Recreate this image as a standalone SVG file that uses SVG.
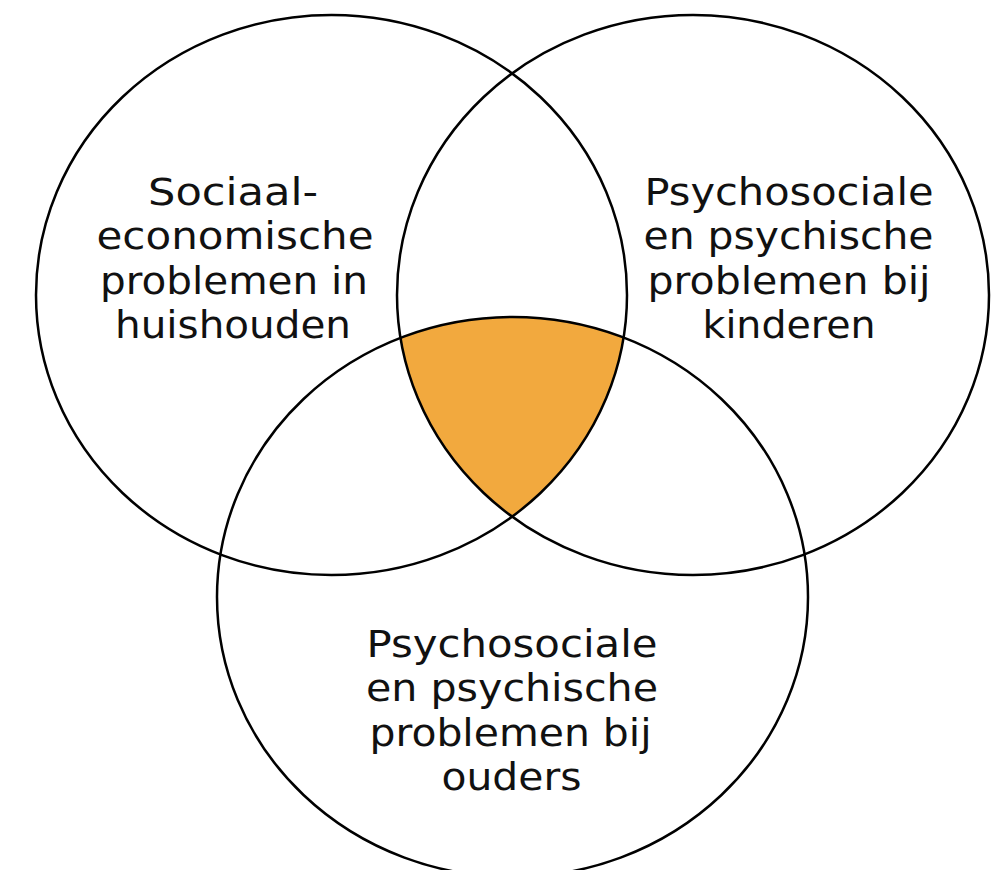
<svg xmlns="http://www.w3.org/2000/svg" width="999" height="870" viewBox="0 0 999 870">
  <style>
    .ring { fill: none; stroke: #000; stroke-width: 2.5; }
    .lbl { font-family: "DejaVu Sans", "Liberation Sans", sans-serif; font-size: 37px; fill: #111; }
  </style>
  <defs>
    <clipPath id="clipLeft"><ellipse cx="331.5" cy="295" rx="295.5" ry="280"/></clipPath>
    <clipPath id="clipRight"><ellipse cx="693" cy="295" rx="296" ry="280"/></clipPath>
  </defs>
  <rect width="999" height="870" fill="#fff"/>
  <g id="overlap">
    <g clip-path="url(#clipLeft)">
      <g clip-path="url(#clipRight)">
        <ellipse cx="512.5" cy="597" rx="295.5" ry="280" fill="#F2A93E"/>
      </g>
    </g>
  </g>
  <g id="node-sociaal">
    <ellipse class="ring" cx="331.5" cy="295" rx="295.5" ry="280"/>
    <text class="lbl" x="148" y="205" textLength="170" lengthAdjust="spacingAndGlyphs">Sociaal-</text>
    <text class="lbl" x="96.5" y="249.4" textLength="277" lengthAdjust="spacingAndGlyphs">economische</text>
    <text class="lbl" x="100" y="293.9" textLength="268" lengthAdjust="spacingAndGlyphs">problemen in</text>
    <text class="lbl" x="115" y="338.3" textLength="236" lengthAdjust="spacingAndGlyphs">huishouden</text>
  </g>
  <g id="node-kinderen">
    <ellipse class="ring" cx="693" cy="295" rx="296" ry="280"/>
    <text class="lbl" x="644.5" y="205" textLength="289" lengthAdjust="spacingAndGlyphs">Psychosociale</text>
    <text class="lbl" x="643.5" y="249.4" textLength="290" lengthAdjust="spacingAndGlyphs">en psychische</text>
    <text class="lbl" x="647.5" y="293.9" textLength="283" lengthAdjust="spacingAndGlyphs">problemen bij</text>
    <text class="lbl" x="702.5" y="338.3" textLength="173" lengthAdjust="spacingAndGlyphs">kinderen</text>
  </g>
  <g id="node-ouders">
    <ellipse class="ring" cx="512.5" cy="597" rx="295.5" ry="280"/>
    <text class="lbl" x="366.5" y="656.7" textLength="291" lengthAdjust="spacingAndGlyphs">Psychosociale</text>
    <text class="lbl" x="366" y="701.1" textLength="292" lengthAdjust="spacingAndGlyphs">en psychische</text>
    <text class="lbl" x="369.5" y="745.5" textLength="282" lengthAdjust="spacingAndGlyphs">problemen bij</text>
    <text class="lbl" x="441.5" y="790" textLength="140" lengthAdjust="spacingAndGlyphs">ouders</text>
  </g>
</svg>
